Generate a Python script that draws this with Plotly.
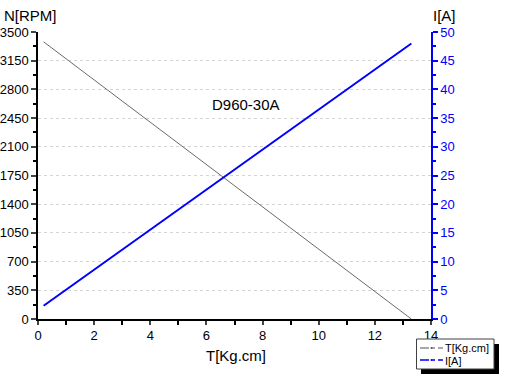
import plotly.graph_objects as go

torque = [0.2, 13.3]
speed = [3380, 0]
current = [2.3, 48.0]

y_ticks = [0, 350, 700, 1050, 1400, 1750, 2100, 2450, 2800, 3150, 3500]
y2_ticks = [0, 5, 10, 15, 20, 25, 30, 35, 40, 45, 50]
x_ticks = [0, 2, 4, 6, 8, 10, 12, 14]
legend_names = ["T[Kg.cm]", "I[A]"]
legend_colors = ["#505050", "#0000ff"]

font = "Liberation Sans, Arial, sans-serif"

# plot area in pixels
PL, PR, PT, PB = 38, 431, 32, 319
W, H = 506, 384


def px(x):
    return (x - PL) / (PR - PL)


def py(y):
    return (PB - y) / (PB - PT)


fig = go.Figure()
fig.add_trace(go.Scatter(x=torque, y=speed, mode="lines", line=dict(color="#6a6a6a", width=1),
                         name=legend_names[0], showlegend=False, yaxis="y"))
fig.add_trace(go.Scatter(x=torque, y=current, mode="lines", line=dict(color="#0000ff", width=2),
                         name=legend_names[1], showlegend=False, yaxis="y2"))

shapes = []
annotations = []
# legend box with shadow
shapes.append(dict(type="rect", xref="paper", yref="paper", x0=px(421), x1=px(499), y0=py(374), y1=py(344),
                   fillcolor="black", line=dict(width=0), layer="above"))
shapes.append(dict(type="rect", xref="paper", yref="paper", x0=px(416.5), x1=px(494), y0=py(369), y1=py(339),
                   fillcolor="white", line=dict(color="#404040", width=1), layer="above"))
for i, (name, col) in enumerate(zip(legend_names, legend_colors)):
    yy = 348 + 12 * i
    shapes.append(dict(type="line", xref="paper", yref="paper", x0=px(420), x1=px(443), y0=py(yy), y1=py(yy),
                       line=dict(color=col, width=1.5 if i else 1, dash="dashdot"), layer="above"))
    shapes.append(dict(type="circle", xref="paper", yref="paper", x0=px(430.5), x1=px(432.5),
                       y0=py(yy + 1), y1=py(yy - 1), fillcolor=col, line=dict(width=0), layer="above"))
    annotations.append(dict(text=name, xref="paper", yref="paper", x=px(444), y=py(yy - 0.5 + i), xanchor="left",
                            yanchor="middle", showarrow=False, font=dict(size=11), borderpad=0))

annotations += [
    dict(text="N[RPM]", xref="paper", yref="paper", x=px(2), y=py(15), xanchor="left",
         yanchor="middle", showarrow=False, font=dict(size=15)),
    dict(text="I[A]", xref="paper", yref="paper", x=px(431), y=py(15), xanchor="left",
         yanchor="middle", showarrow=False, font=dict(size=15)),
    dict(text="T[Kg.cm]", xref="paper", yref="paper", x=px(236), y=py(355), xanchor="center",
         yanchor="middle", showarrow=False, font=dict(size=15)),
    dict(text="D960-30A", xref="x", yref="y", x=7.4, y=2620, showarrow=False,
         font=dict(size=15)),
]

fig.update_layout(
    width=W, height=H,
    margin=dict(l=PL, r=W - PR, t=PT, b=H - PB, autoexpand=False),
    paper_bgcolor="white", plot_bgcolor="white",
    font=dict(family=font, size=13, color="black"),
    showlegend=False,
    xaxis=dict(range=[0, 14], tickvals=x_ticks, ticks="outside", ticklen=4, tickwidth=1.5,
               showline=True, linecolor="black", linewidth=1.5, showgrid=False, zeroline=False,
               automargin=False,
               minor=dict(dtick=1, ticks="outside", ticklen=4, tickwidth=1.5, tickcolor="black"),
               tickfont=dict(size=13)),
    yaxis=dict(range=[0, 3500], tickvals=y_ticks, ticks="outside", ticklen=5, tickwidth=1.5,
               showline=True, linecolor="black", linewidth=1.5, zeroline=False, automargin=False,
               showgrid=True, gridcolor="#d4d4d4", griddash="dot", gridwidth=1,
               minor=dict(tickvals=[175 + 350 * i for i in range(10)], ticks="outside", ticklen=3,
                          tickwidth=1.5, tickcolor="black", showgrid=False),
               tickfont=dict(size=13)),
    yaxis2=dict(range=[0, 50], tickvals=y2_ticks, overlaying="y", side="right", ticks="outside",
                ticklen=5, tickwidth=1.5, tickcolor="#0000ff", automargin=False,
                showline=True, linecolor="#0000ff", linewidth=1.5, zeroline=False, showgrid=False,
                minor=dict(tickvals=[2.5 + 5 * i for i in range(10)], ticks="outside", ticklen=3,
                           tickwidth=1.5, tickcolor="#0000ff"),
                tickfont=dict(size=13, color="#0000ff")),
    shapes=shapes,
    annotations=annotations,
)
fig.write_html("out.html", config={"displayModeBar": False},
               post_script="document.body.style.margin='0';")
